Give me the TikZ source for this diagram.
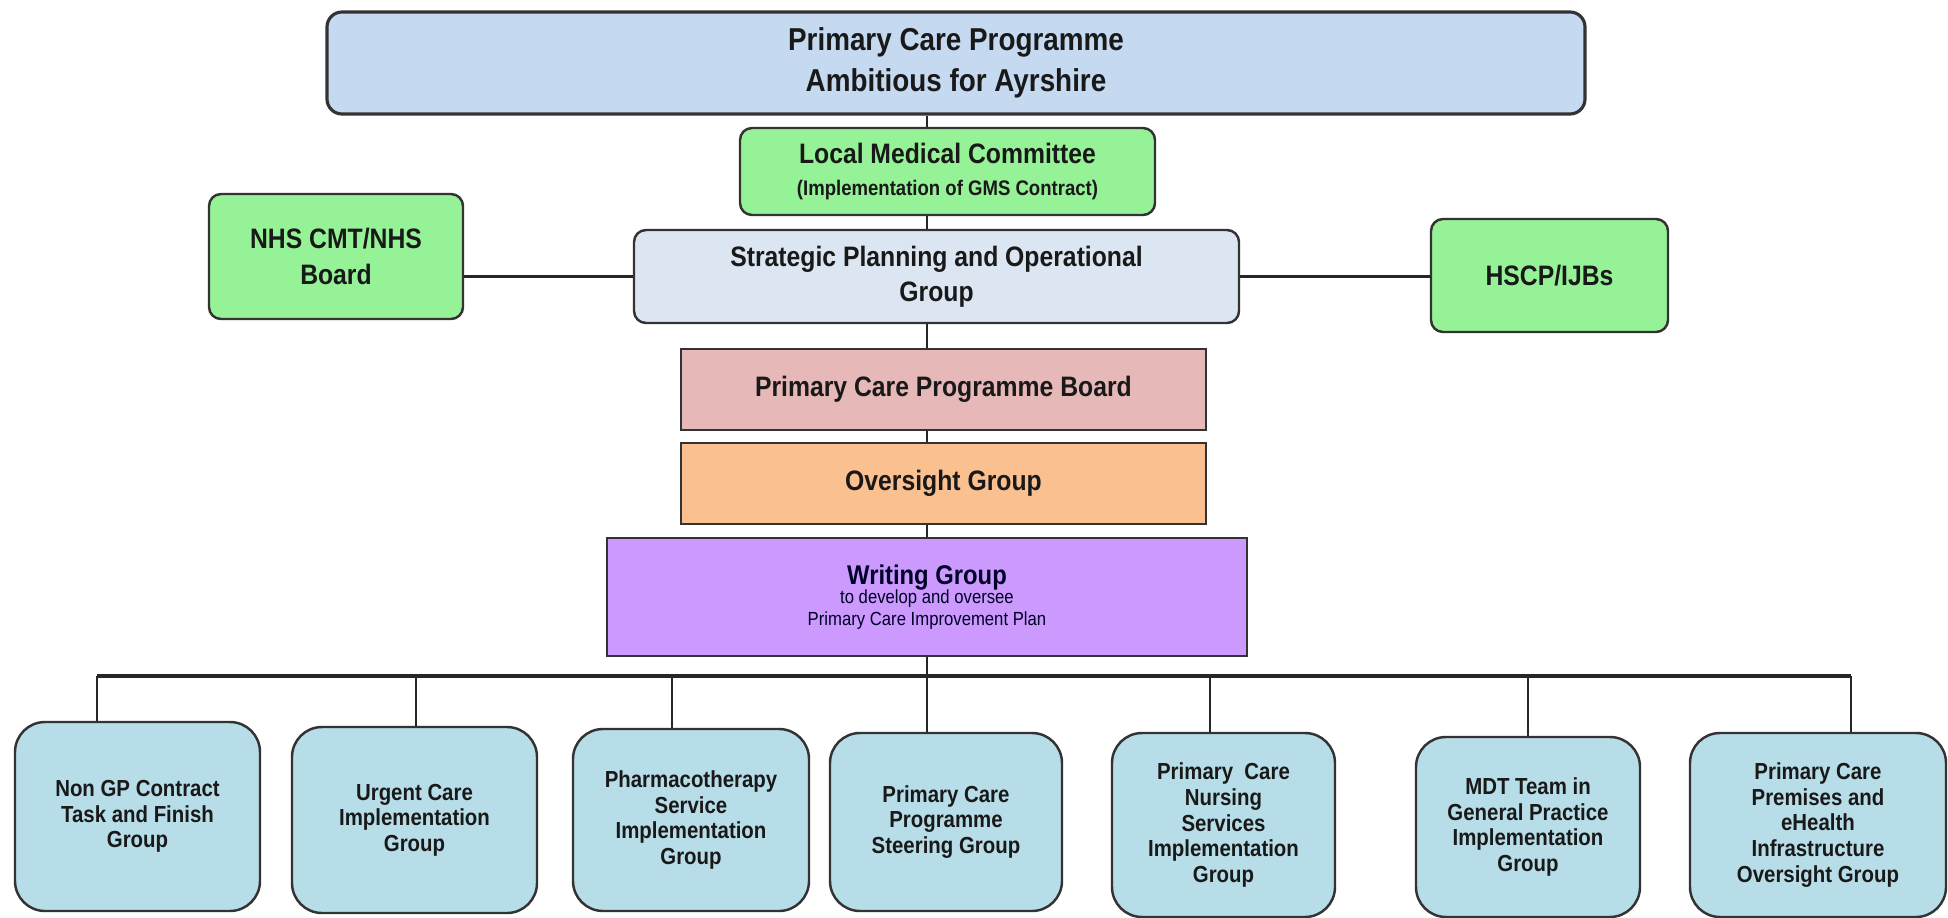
\documentclass[tikz,border=0pt]{standalone}
\usepackage{fontspec}
\setmainfont{Liberation Sans}[FakeStretch=0.88]
\usepackage{xcolor}
\definecolor{topblue}{RGB}{197,217,241}
\definecolor{lmcgreen}{RGB}{150,242,150}
\definecolor{stratgrey}{RGB}{220,230,242}
\definecolor{boardpink}{RGB}{230,185,184}
\definecolor{overorange}{RGB}{250,192,144}
\definecolor{writepurple}{RGB}{204,153,255}
\definecolor{grpblue}{RGB}{183,221,232}

\begin{document}
\begin{tikzpicture}[box/.style={draw=black!80, line width=0.7pt, align=center, inner sep=0pt, text=black!90, font=\bfseries\fontsize{8}{10}\selectfont},
rbox/.style={box, rounded corners=0.12cm},  group/.style={box, rounded corners=0.3cm, fill=grpblue, font=\bfseries\fontsize{6.6}{7.3}\selectfont},
link/.style={line width=0.8pt, black!85}, bus/.style={line width=1.2pt, black!85}]
\useasboundingbox (0,0) rectangle (19.48,-9.18);
\node[rbox, fill=topblue, rounded corners=0.15cm, line width=0.9pt, minimum width=12.58cm, minimum height=1.02cm, font=\bfseries\fontsize{9}{11.7}\selectfont] (top) at (9.56,-0.63) {Primary Care Programme\\ Ambitious for Ayrshire};
\node[rbox, fill=lmcgreen, minimum width=4.15cm, minimum height=0.87cm] (lmc) at (9.475,-1.715) {Local Medical Committee\\[-1pt] \fontsize{6}{7}\selectfont (Implementation of GMS Contract)};
\node[rbox, fill=lmcgreen, minimum width=2.54cm, minimum height=1.25cm] (nhs) at (3.36,-2.565) {NHS CMT/NHS\\ Board};
\node[rbox, fill=stratgrey, minimum width=6.05cm, minimum height=0.93cm] (strat) at (9.365,-2.765) {Strategic Planning and Operational\\ Group};
\node[rbox, fill=lmcgreen, minimum width=2.37cm, minimum height=1.13cm] (hscp) at (15.495,-2.755) {HSCP/IJBs};
\node[box, fill=boardpink, minimum width=5.25cm, minimum height=0.81cm] (pcpb) at (9.435,-3.895) {Primary Care Programme Board};
\node[box, fill=overorange, minimum width=5.25cm, minimum height=0.81cm] (over) at (9.435,-4.835) {Oversight Group};
\node[box, fill=writepurple, minimum width=6.4cm, minimum height=1.18cm, text=black!75!blue!60!black, font=\bfseries\fontsize{7.7}{9}\selectfont] (wg) at (9.27,-5.97) {Writing Group\\[-3.4pt] \mdseries\fontsize{5.4}{6}\selectfont to develop and oversee\\[-2.8pt] \mdseries\fontsize{5.4}{6}\selectfont Primary Care Improvement Plan};
\node[group, minimum width=2.45cm, minimum height=1.89cm] (b1) at (1.375,-8.165) {Non GP Contract\\ Task and Finish\\ Group};
\node[group, minimum width=2.45cm, minimum height=1.86cm] (b2) at (4.145,-8.2) {Urgent Care\\ Implementation\\ Group};
\node[group, minimum width=2.36cm, minimum height=1.82cm] (b3) at (6.91,-8.2) {Pharmacotherapy\\ Service\\ Implementation\\ Group};
\node[group, minimum width=2.32cm, minimum height=1.78cm] (b4) at (9.46,-8.22) {Primary Care\\ Programme\\ Steering Group};
\node[group, minimum width=2.23cm, minimum height=1.84cm] (b5) at (12.235,-8.25) {Primary~ Care\\ Nursing\\ Services\\ Implementation\\ Group};
\node[group, minimum width=2.24cm, minimum height=1.8cm] (b6) at (15.28,-8.27) {MDT Team in\\ General Practice\\ Implementation\\ Group};
\node[group, minimum width=2.56cm, minimum height=1.84cm] (b7) at (18.18,-8.25) {Primary Care\\ Premises and\\ eHealth\\ Infrastructure\\ Oversight Group};
\coordinate (t1) at (0.97,-6.76); \coordinate (t2) at (4.16,-6.76); \coordinate (t3) at (6.72,-6.76);
\coordinate (t5) at (12.10,-6.76); \coordinate (t6) at (15.28,-6.76); \coordinate (t7) at (18.51,-6.76);
\draw[link] (top.south -| wg.north) -- (lmc.north -| wg.north);
\draw[link] (lmc.south -| wg.north) -- (strat.north -| wg.north);
\draw[link] (strat.south -| wg.north) -- (pcpb.north -| wg.north);
\draw[link] (pcpb.south -| wg.north) -- (over.north -| wg.north);
\draw[link] (over.south -| wg.north) -- (wg.north);
\draw[link] (strat.west) -- (strat.west -| nhs.east);
\draw[link] (strat.east) -- (strat.east -| hscp.west);
\draw[link] (wg.south) -- (wg.south |- b4.north);
\draw[bus] (t1) -- (t7);
\foreach \i in {1,2,3,5,6,7} \draw[link] (t\i) -- (t\i |- b\i.north);
\end{tikzpicture}
\end{document}
